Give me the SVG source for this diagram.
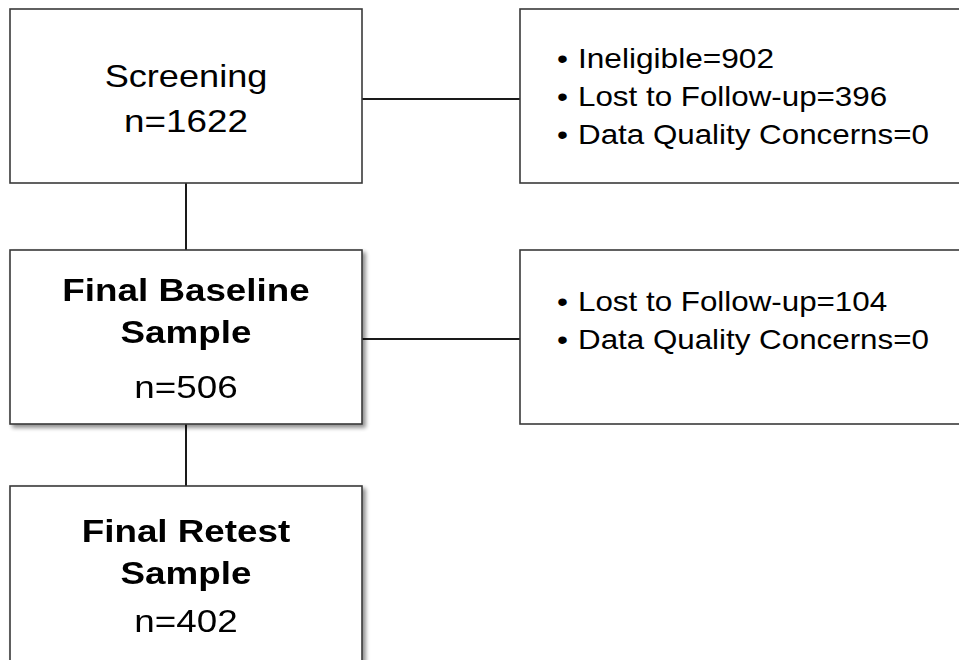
<svg xmlns="http://www.w3.org/2000/svg" width="959" height="660" viewBox="0 0 959 660">
  <defs>
    <filter id="shadow" x="-10%" y="-10%" width="130%" height="130%">
      <feGaussianBlur in="SourceAlpha" stdDeviation="2"/>
      <feOffset dx="3" dy="3" result="b"/>
      <feComponentTransfer><feFuncA type="linear" slope="0.45"/></feComponentTransfer>
      <feMerge><feMergeNode/><feMergeNode in="SourceGraphic"/></feMerge>
    </filter>
    <style>
      .box { fill: #ffffff; stroke: #3a3a3a; stroke-width: 1.6; }
      .conn { stroke: #1a1a1a; stroke-width: 2; fill: none; }
      .t { font-family: "Liberation Sans", Arial, Helvetica, sans-serif; font-size: 32px; fill: #000000; }
      .c { text-anchor: middle; }
      .b { font-weight: bold; }
      .l { font-family: "Liberation Sans", Arial, Helvetica, sans-serif; font-size: 27.5px; fill: #000000; }
    </style>
  </defs>
  <rect width="959" height="660" fill="#ffffff"/>

  <g id="connectors">
    <line class="conn" x1="186" y1="183" x2="186" y2="250"/>
    <line class="conn" x1="186" y1="424" x2="186" y2="486"/>
    <line class="conn" x1="362" y1="99" x2="520" y2="99"/>
    <line class="conn" x1="362" y1="339" x2="520" y2="339"/>
  </g>

  <g id="screening">
    <rect class="box" x="10" y="9" width="352" height="174"/>
    <text class="t c" transform="translate(186,87) scale(1.13,1)">Screening</text>
    <text class="t c" transform="translate(186,132) scale(1.15,1)">n=1622</text>
  </g>

  <g id="exclusions1">
    <rect class="box" x="520" y="9" width="450" height="174"/>
    <text class="l" transform="translate(557,68) scale(1.14,1)">•</text>
    <text class="l" transform="translate(578,68) scale(1.15,1)">Ineligible=902</text>
    <text class="l" transform="translate(557,106) scale(1.14,1)">•</text>
    <text class="l" transform="translate(578,106) scale(1.14,1)">Lost to Follow-up=396</text>
    <text class="l" transform="translate(557,144) scale(1.14,1)">•</text>
    <text class="l" transform="translate(578,144) scale(1.14,1)">Data Quality Concerns=0</text>
  </g>

  <g id="baseline" filter="url(#shadow)">
    <rect class="box" x="10" y="250" width="352" height="174"/>
    <text class="t c b" transform="translate(186,301) scale(1.15,1)">Final Baseline</text>
    <text class="t c b" transform="translate(186,343) scale(1.15,1)">Sample</text>
    <text class="t c" transform="translate(186,398) scale(1.15,1)">n=506</text>
  </g>

  <g id="exclusions2">
    <rect class="box" x="520" y="250" width="450" height="174"/>
    <text class="l" transform="translate(557,311) scale(1.14,1)">•</text>
    <text class="l" transform="translate(578,311) scale(1.14,1)">Lost to Follow-up=104</text>
    <text class="l" transform="translate(557,349) scale(1.14,1)">•</text>
    <text class="l" transform="translate(578,349) scale(1.14,1)">Data Quality Concerns=0</text>
  </g>

  <g id="retest" filter="url(#shadow)">
    <rect class="box" x="10" y="486" width="352" height="200"/>
    <text class="t c b" transform="translate(186,542) scale(1.15,1)">Final Retest</text>
    <text class="t c b" transform="translate(186,584) scale(1.15,1)">Sample</text>
    <text class="t c" transform="translate(186,632) scale(1.15,1)">n=402</text>
  </g>
</svg>
